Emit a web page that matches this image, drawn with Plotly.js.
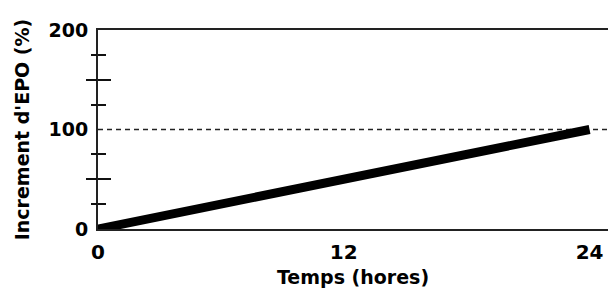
<!DOCTYPE html>
<html>
<head>
<meta charset="utf-8">
<script src="https://cdn.plot.ly/plotly-3.0.1.min.js"></script>
<style>html,body{margin:0;padding:0;background:#fff;}#chart{width:608px;height:296px;}</style>
</head>
<body>
<div id="chart"></div>
<script>
// Data
var timeHours = [0, 24];
var epoIncrease = [0, 100];
var referenceLevel = 100;
var xTickVals = [0, 12, 24];
var yTickVals = [0, 100, 200];
var yMajorMarks = [50, 150];
var yMinorMarks = [25, 75, 125, 175];

var fontBold = 'DejaVu Sans, Arial, sans-serif';

var traces = [
  {
    x: timeHours, y: epoIncrease, mode: 'lines', type: 'scatter',
    line: {color: '#000', width: 9}, hoverinfo: 'skip', showlegend: false
  }
];

var tickMarkAxis = function (dir, majLen, minLen) {
  return {
    overlaying: 'y', anchor: 'x', side: 'left', range: [0, 200],
    showline: false, showgrid: false, zeroline: false,
    tickmode: 'array', tickvals: yMajorMarks, ticks: dir, ticklen: majLen,
    tickwidth: 2, tickcolor: '#111', showticklabels: false,
    minor: {tickmode: 'array', tickvals: yMinorMarks, ticks: dir, ticklen: minLen, tickwidth: 2, tickcolor: '#111', showgrid: false}
  };
};

var layout = {
  width: 608, height: 296,
  margin: {l: 98, r: 0, t: 30, b: 67},
  paper_bgcolor: '#fff', plot_bgcolor: '#fff',
  showlegend: false,
  xaxis: {
    range: [0, 24.9], tickmode: 'array', tickvals: xTickVals,
    ticktext: xTickVals.map(function (v) { return '<b>' + v + '</b>'; }),
    ticks: '', showgrid: false, zeroline: false,
    showline: true, linecolor: '#222', linewidth: 2, mirror: true,
    ticklabelstandoff: 4,
    tickfont: {family: fontBold, size: 20, color: '#000'},
    title: {text: '<b>Temps (hores)</b>', font: {family: fontBold, size: 19, color: '#000'}, standoff: 8}
  },
  yaxis: {
    range: [0, 200], tickmode: 'array', tickvals: yTickVals,
    ticktext: yTickVals.map(function (v) { return '<b>' + v + '</b>'; }),
    ticks: '', showgrid: false, zeroline: false,
    showline: true, linecolor: '#222', linewidth: 2,
    ticklabelstandoff: 4,
    tickfont: {family: fontBold, size: 19, color: '#000'},
    title: {text: "<b>Increment d'EPO (%)</b>", font: {family: fontBold, size: 19, color: '#000'}, standoff: 14}
  },
  yaxis2: tickMarkAxis('outside', 11, 6),
  yaxis3: tickMarkAxis('inside', 13, 8),
  shapes: [
    {type: 'line', xref: 'paper', x0: 0, x1: 1, yref: 'y', y0: referenceLevel, y1: referenceLevel,
     line: {color: '#222', width: 1.5, dash: '5px,4px'}, layer: 'below'}
  ]
};

// invisible anchor traces so the overlay tick-mark axes are drawn
traces.push({x: [timeHours[0]], y: [epoIncrease[0]], yaxis: 'y2', mode: 'markers', marker: {opacity: 0}, hoverinfo: 'skip', showlegend: false});
traces.push({x: [timeHours[0]], y: [epoIncrease[0]], yaxis: 'y3', mode: 'markers', marker: {opacity: 0}, hoverinfo: 'skip', showlegend: false});

Plotly.newPlot('chart', traces, layout, {staticPlot: true, displayModeBar: false});
</script>
</body>
</html>
